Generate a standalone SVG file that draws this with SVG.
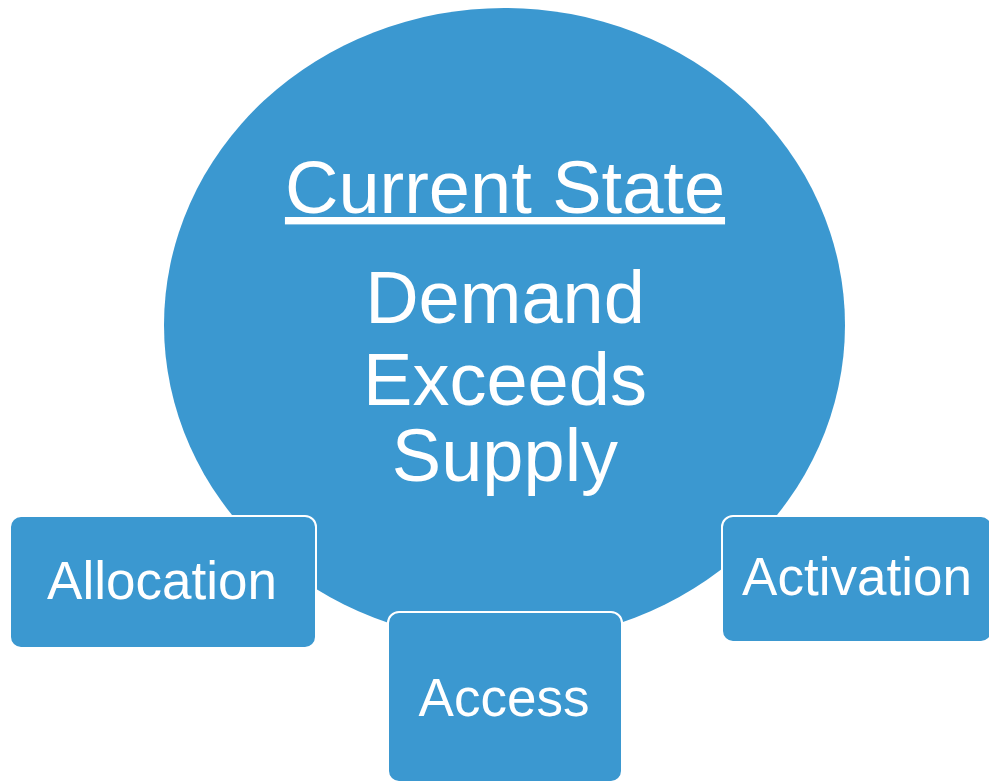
<svg xmlns="http://www.w3.org/2000/svg" width="989" height="783" viewBox="0 0 989 783">
<style>
.shape{fill:#3b98d0}
.box{fill:#3b98d0;stroke:#ffffff;stroke-width:2}
text{font-family:"Liberation Sans",Arial,sans-serif;fill:#ffffff;text-anchor:middle}
.lbl{font-size:53px}
.big{font-size:74px}
</style>
<rect width="989" height="783" fill="#ffffff"/>
<g id="current-state">
<ellipse class="shape" cx="504.5" cy="325" rx="340.5" ry="317"/>
<text x="505" y="213" font-size="74" text-decoration="underline">Current State</text>
<text class="big" x="505" y="323">Demand</text>
<text class="big" x="505" y="405">Exceeds</text>
<text class="big" x="505" y="481">Supply</text>
</g>
<g id="connectors"></g>
<g id="allocation">
<rect class="box" x="10" y="516" width="306" height="132" rx="11"/>
<text class="lbl" x="162" y="599">Allocation</text>
</g>
<g id="access">
<rect class="box" x="388" y="612" width="234" height="170" rx="11"/>
<text class="lbl" x="504" y="716">Access</text>
</g>
<g id="activation">
<rect class="box" x="722" y="516" width="270" height="126" rx="11"/>
<text class="lbl" x="857" y="595">Activation</text>
</g>
</svg>
